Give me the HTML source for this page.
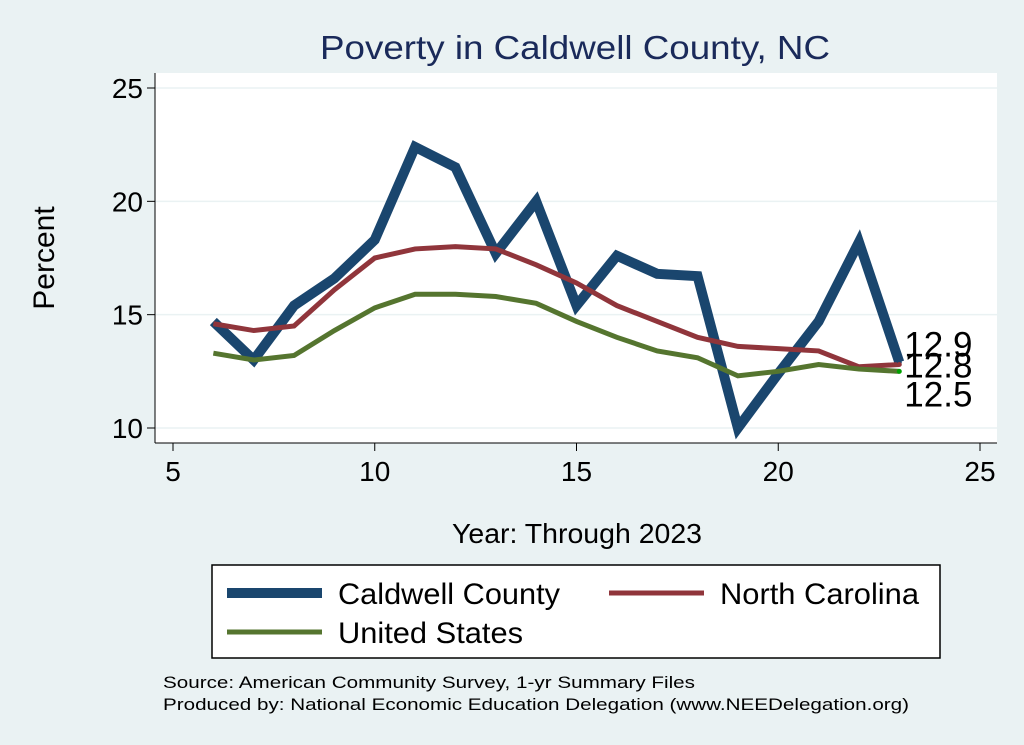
<!DOCTYPE html>
<html><head><meta charset="utf-8"><style>
body{margin:0;background:#eaf2f3;}
svg{display:block;font-family:"Liberation Sans",sans-serif;}
</style></head><body>
<svg id="c" width="1024" height="745">
<rect x="0" y="0" width="1024" height="745" fill="#eaf2f3"/>
<text x="320" y="59" font-size="33" fill="#1a2a5a" textLength="510" lengthAdjust="spacingAndGlyphs">Poverty in Caldwell County, NC</text>
<rect x="155" y="73" width="842" height="370" fill="#fff"/>
<g id="grid"></g><g id="axes"></g><g id="series"></g>
<text x="54" y="258" font-size="30" text-anchor="middle" transform="rotate(-90 54 258)">Percent</text>
<text x="452" y="543" font-size="28" textLength="250" lengthAdjust="spacingAndGlyphs">Year: Through 2023</text>
<g>
<rect x="212" y="565" width="728" height="93" fill="#fff" stroke="#000" stroke-width="1.5"/>
<line x1="227" y1="593" x2="322" y2="593" stroke="#1a466e" stroke-width="10"/>
<text x="338" y="604" font-size="30" textLength="222" lengthAdjust="spacingAndGlyphs">Caldwell County</text>
<line x1="609" y1="593" x2="704" y2="593" stroke="#90353b" stroke-width="5"/>
<text x="720" y="604" font-size="30" textLength="199" lengthAdjust="spacingAndGlyphs">North Carolina</text>
<line x1="227" y1="632" x2="322" y2="632" stroke="#55752f" stroke-width="5"/>
<text x="338" y="643" font-size="30" textLength="185" lengthAdjust="spacingAndGlyphs">United States</text>
</g>
<text x="163" y="688" font-size="17" textLength="532" lengthAdjust="spacingAndGlyphs">Source: American Community Survey, 1-yr Summary Files</text>
<text x="163" y="710" font-size="17" textLength="746" lengthAdjust="spacingAndGlyphs">Produced by: National Economic Education Delegation (www.NEEDelegation.org)</text>
</svg>
<script>
const years=[6,7,8,9,10,11,12,13,14,15,16,17,18,19,20,21,22,23];
const caldwell=[14.7,13.0,15.4,16.6,18.3,22.4,21.5,17.7,20.0,15.4,17.6,16.8,16.7,10.0,12.4,14.7,18.2,12.9];
const northCarolina=[14.6,14.3,14.5,16.1,17.5,17.9,18.0,17.9,17.2,16.4,15.4,14.7,14.0,13.6,13.5,13.4,12.7,12.8];
const unitedStates=[13.3,13.0,13.2,14.3,15.3,15.9,15.9,15.8,15.5,14.7,14.0,13.4,13.1,12.3,12.5,12.8,12.6,12.5];
const xTicks=[5,10,15,20,25];
const yTicks=[10,15,20,25];
const NS='http://www.w3.org/2000/svg';
const X=v=>173+(v-5)*(980-173)/20;
const Y=v=>428-(v-10)*(428-88)/15;
function mk(t,a,p){const e=document.createElementNS(NS,t);for(const k in a)e.setAttribute(k,a[k]);p.appendChild(e);return e;}
const grid=document.getElementById('grid'),axes=document.getElementById('axes'),ser=document.getElementById('series');
mk('line',{x1:155,y1:73,x2:155,y2:443,stroke:'#000','stroke-width':1},axes);
mk('line',{x1:155,y1:443,x2:997,y2:443,stroke:'#000','stroke-width':1},axes);
yTicks.forEach(v=>{
 const g=mk('line',{x1:155,y1:Y(v),x2:997,y2:Y(v),stroke:'#eaf2f3','stroke-width':1.5},grid);
 
 
 mk('line',{x1:147,y1:Y(v),x2:155,y2:Y(v),stroke:'#000'},axes);
 const t=mk('text',{x:143,y:Y(v)+10,'font-size':28,'text-anchor':'end'},axes);t.textContent=v;
 
 
});
xTicks.forEach(v=>{
 mk('line',{x1:X(v),y1:443,x2:X(v),y2:451,stroke:'#000'},axes);
 const t=mk('text',{x:X(v),y:481,'font-size':28,'text-anchor':'middle'},axes);t.textContent=v;
 
 
});
function line(vals,col,w,name){
 const p=mk('polyline',{points:years.map((y,i)=>X(y)+','+Y(vals[i])).join(' '),fill:'none',stroke:col,'stroke-width':w,'stroke-linejoin':'miter'},ser);
 
 
}
line(caldwell,'#1a466e',10,'caldwell-line');
line(northCarolina,'#90353b',5,'nc-line');
line(unitedStates,'#55752f',5,'us-line');
const n=years.length-1;
[[caldwell[n],'#1a466e',-6],[northCarolina[n],'#90353b',13],[unitedStates[n],'#00a000',35]].forEach((d,i)=>{
 const c=mk('circle',{cx:X(years[n]),cy:Y(d[0]),r:2.5,fill:d[1]},ser);
 
 
 const t=mk('text',{x:X(years[n])+5,y:Y(d[0])+d[2],'font-size':35},ser);t.textContent=d[0].toFixed(1);
 
 
});
</script>
</body></html>
